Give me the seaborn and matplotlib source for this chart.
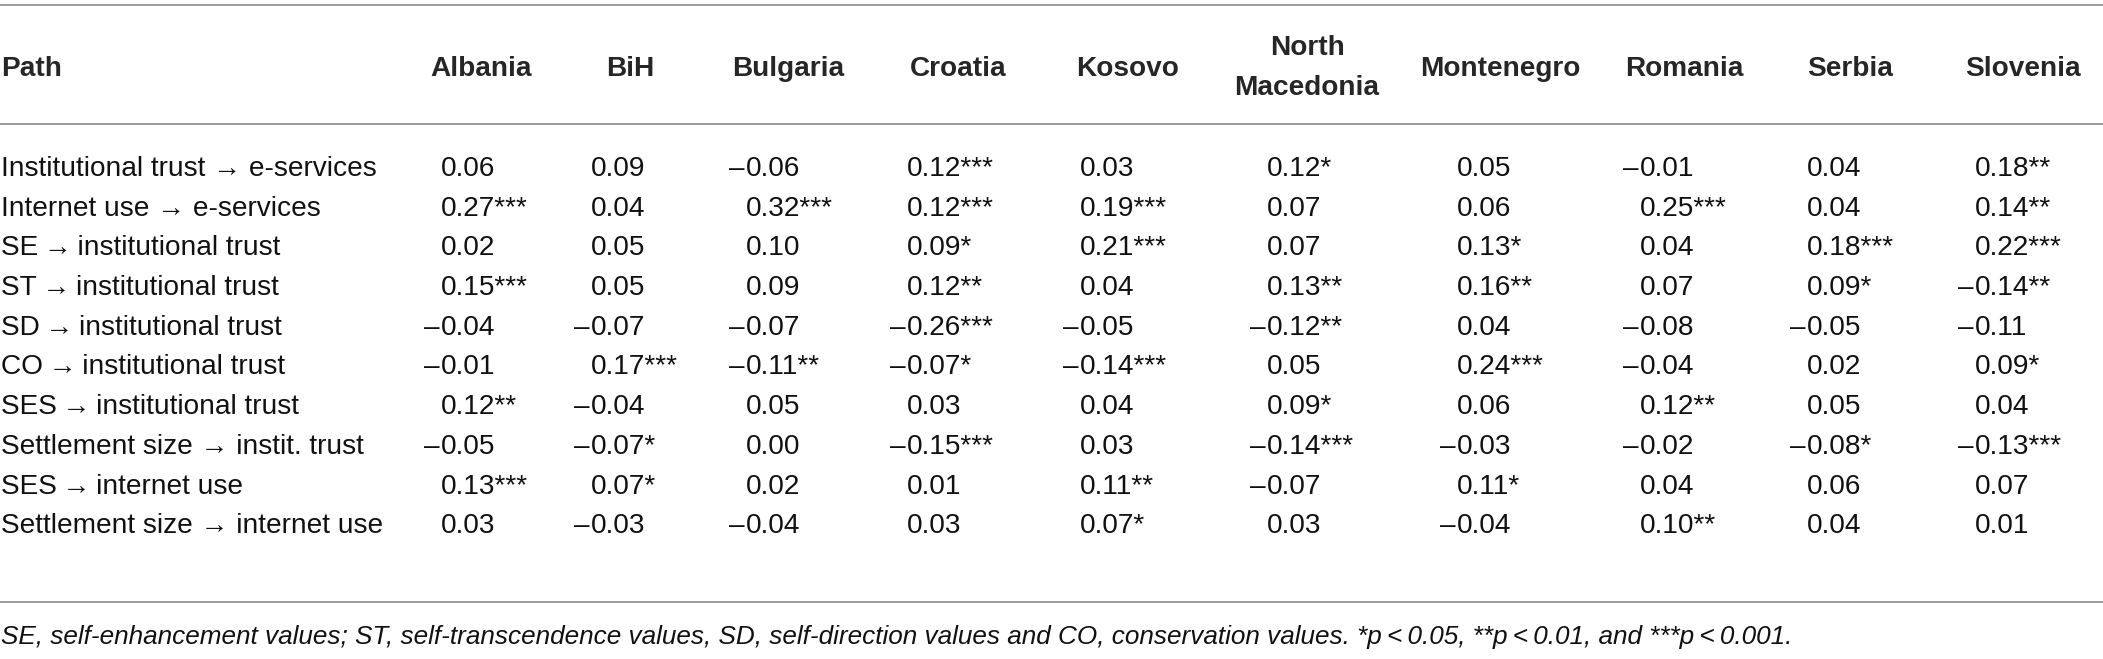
import matplotlib
matplotlib.use("Agg")
import matplotlib.pyplot as plt
import seaborn as sns

# path coefficients per country, stars = significance level
paths = [
    "Institutional trust \u2192 e-services",
    "Internet use \u2192 e-services",
    "SE\u2009\u2192\u2009institutional trust",
    "ST\u2009\u2192\u2009institutional trust",
    "SD\u2009\u2192\u2009institutional trust",
    "CO\u2009\u2192\u2009institutional trust",
    "SES\u2009\u2192\u2009institutional trust",
    "Settlement size \u2192 instit. trust",
    "SES\u2009\u2192\u2009internet use",
    "Settlement size \u2192 internet use",
]
countries = ["Albania", "BiH", "Bulgaria", "Croatia", "Kosovo", "North\nMacedonia",
             "Montenegro", "Romania", "Serbia", "Slovenia"]

albania = [0.06, 0.27, 0.02, 0.15, -0.04, -0.01, 0.12, -0.05, 0.13, 0.03]
albania_sig = [0, 3, 0, 3, 0, 0, 2, 0, 3, 0]
bih = [0.09, 0.04, 0.05, 0.05, -0.07, 0.17, -0.04, -0.07, 0.07, -0.03]
bih_sig = [0, 0, 0, 0, 0, 3, 0, 1, 1, 0]
bulgaria = [-0.06, 0.32, 0.10, 0.09, -0.07, -0.11, 0.05, 0.00, 0.02, -0.04]
bulgaria_sig = [0, 3, 0, 0, 0, 2, 0, 0, 0, 0]
croatia = [0.12, 0.12, 0.09, 0.12, -0.26, -0.07, 0.03, -0.15, 0.01, 0.03]
croatia_sig = [3, 3, 1, 2, 3, 1, 0, 3, 0, 0]
kosovo = [0.03, 0.19, 0.21, 0.04, -0.05, -0.14, 0.04, 0.03, 0.11, 0.07]
kosovo_sig = [0, 3, 3, 0, 0, 3, 0, 0, 2, 1]
north_macedonia = [0.12, 0.07, 0.07, 0.13, -0.12, 0.05, 0.09, -0.14, -0.07, 0.03]
north_macedonia_sig = [1, 0, 0, 2, 2, 0, 1, 3, 0, 0]
montenegro = [0.05, 0.06, 0.13, 0.16, 0.04, 0.24, 0.06, -0.03, 0.11, -0.04]
montenegro_sig = [0, 0, 1, 2, 0, 3, 0, 0, 1, 0]
romania = [-0.01, 0.25, 0.04, 0.07, -0.08, -0.04, 0.12, -0.02, 0.04, 0.10]
romania_sig = [0, 3, 0, 0, 0, 0, 2, 0, 0, 2]
serbia = [0.04, 0.04, 0.18, 0.09, -0.05, 0.02, 0.05, -0.08, 0.06, 0.04]
serbia_sig = [0, 0, 3, 1, 0, 0, 0, 1, 0, 0]
slovenia = [0.18, 0.14, 0.22, -0.14, -0.11, 0.09, 0.04, -0.13, 0.07, 0.01]
slovenia_sig = [2, 2, 3, 2, 0, 1, 0, 3, 0, 0]

values = [albania, bih, bulgaria, croatia, kosovo, north_macedonia,
          montenegro, romania, serbia, slovenia]
sigs = [albania_sig, bih_sig, bulgaria_sig, croatia_sig, kosovo_sig,
        north_macedonia_sig, montenegro_sig, romania_sig, serbia_sig, slovenia_sig]

note = ("SE, self-enhancement values; ST, self-transcendence values, SD, self-direction values "
        "and CO, conservation values. *p\u2009<\u20090.05, **p\u2009<\u20090.01, and ***p\u2009<\u20090.001.")

sns.set_theme(style="white")
plt.rcParams["font.family"] = ["Liberation Sans", "DejaVu Sans"]

W, H = 2103, 659
fig = plt.figure(figsize=(W / 100, H / 100), dpi=100)
ax = fig.add_axes([0, 0, 1, 1])
ax.set_xlim(0, W)
ax.set_ylim(H, 0)
ax.axis("off")

fs = 20.2
ink = "#111111"
rule = dict(color="#808080", lw=1.1)
ax.axhline(4.5, **rule)
ax.axhline(124, **rule)
ax.axhline(602, **rule)

# column layout: header centre and where the digits start
head_x = [481, 630, 788, 958, 1128, 1307, 1500, 1684, 1850, 2023]
num_x = [441, 591, 746, 907, 1080, 1267, 1457, 1640, 1807, 1975]

ax.text(1, 76, "Path", fontsize=fs, fontweight="bold", va="baseline", ha="left")
for c, name in enumerate(countries):
    lines = name.split("\n")
    if len(lines) == 1:
        ax.text(head_x[c], 76, name, fontsize=fs, fontweight="bold", va="baseline", ha="center")
    else:
        for k, ln in enumerate(lines):
            ax.text(head_x[c], 55 + 40 * k, ln, fontsize=fs, fontweight="bold",
                    va="baseline", ha="center")

row_y0, row_dy = 176, 39.7
for r, p in enumerate(paths):
    y = row_y0 + r * row_dy
    ax.text(1, y, p, fontsize=fs, va="baseline", ha="left", color=ink)
    for c in range(len(countries)):
        v = values[c][r]
        s = "{:.2f}".format(abs(v)) + "*" * sigs[c][r]
        ax.text(num_x[c], y, s, fontsize=fs, va="baseline", ha="left", color=ink)
        if v < 0:
            ax.text(num_x[c] - 1, y, "\u2013", fontsize=fs, va="baseline", ha="right", color=ink)

# footnote: size it so it ends where the reference line ends (~1803 px)
foot = ax.text(1, 644, note, fontsize=18.5, style="italic", va="baseline", ha="left", color=ink)
fig.canvas.draw()
wpx = foot.get_window_extent().width
foot.set_fontsize(18.5 * 1802 / wpx)

fig.savefig("out.png", dpi=100)
